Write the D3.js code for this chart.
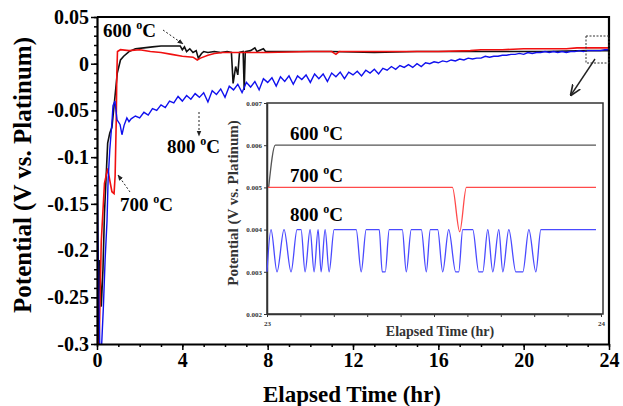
<!DOCTYPE html>
<html>
<head>
<meta charset="utf-8">
<script src="https://cdn.jsdelivr.net/npm/d3@7"></script>
<style>
body { margin: 0; background: #fff; }
svg text { font-family: "Liberation Serif", "Times New Roman", serif; font-weight: bold; }
</style>
</head>
<body>
<svg id="chart" width="623" height="406"></svg>
<script>
const width = 623;
const height = 406;

// main chart data, [hour, volts]
const xTicks = [0, 4, 8, 12, 16, 20, 24];
const yTicks = [0.05, 0, -0.05, -0.1, -0.15, -0.2, -0.25, -0.3];

const series600 = [
  [0.05, -0.30], [0.12, -0.21], [0.2, -0.26], [0.28, -0.22], [0.35, -0.16], [0.45, -0.11],
  [0.5, -0.085], [0.6, -0.074], [0.7, -0.068], [0.8, -0.045], [0.95, -0.01], [1.1, 0.004],
  [1.25, 0.008], [1.5, 0.013], [1.8, 0.016], [2.2, 0.017], [2.6, 0.018], [3.0, 0.019],
  [3.5, 0.019], [3.9, 0.019], [4.0, 0.015], [4.1, 0.018], [4.2, 0.013], [4.35, 0.016],
  [4.5, 0.012], [4.65, 0.014], [4.75, 0.006], [4.9, 0.011], [5.0, 0.013], [5.2, 0.012],
  [5.5, 0.013], [5.8, 0.012], [6.1, 0.013], [6.3, 0.012], [6.38, -0.021], [6.5, -0.003],
  [6.6, -0.012], [6.68, 0.012], [6.85, 0.013], [6.9, -0.028], [6.95, 0.013], [7.2, 0.014],
  [7.4, 0.017], [7.5, 0.013], [7.8, 0.016], [7.9, 0.013], [9, 0.013], [11, 0.013],
  [13, 0.012], [15, 0.013], [17, 0.013], [19, 0.013], [21, 0.013], [23, 0.014], [24, 0.014]
];

const series700 = [
  [0.02, -0.30], [0.1, -0.30], [0.2, -0.19], [0.35, -0.128], [0.5, -0.112], [0.6, -0.125],
  [0.7, -0.137], [0.8, -0.139], [0.85, -0.12], [0.9, -0.063], [0.93, -0.01], [0.96, 0.013],
  [1.1, 0.015], [1.5, 0.014], [2.0, 0.015], [2.5, 0.013], [3.0, 0.012], [3.5, 0.010],
  [4.0, 0.008], [4.5, 0.007], [4.7, 0.004], [4.85, 0.006], [5.2, 0.009], [5.5, 0.011],
  [5.9, 0.012], [7, 0.012], [8, 0.012], [10, 0.013], [11.0, 0.013], [11.2, 0.010],
  [11.35, 0.013], [14, 0.013], [16, 0.013], [17.5, 0.014], [18.0, 0.015], [19, 0.015],
  [20, 0.016], [21, 0.016], [22, 0.016], [22.5, 0.017], [24, 0.017]
];

const series800Start = [
  [0.0, -0.105], [0.05, -0.19], [0.1, -0.27], [0.15, -0.32], [0.22, -0.30], [0.3, -0.26],
  [0.38, -0.21], [0.47, -0.168], [0.52, -0.125], [0.6, -0.092], [0.7, -0.063], [0.75, -0.045],
  [0.84, -0.04], [0.94, -0.06], [1.08, -0.065], [1.17, -0.076], [1.27, -0.066], [1.4, -0.058],
  [1.5, -0.062]
];
// 800 C readings every 0.2 hr from 1.6 hr to 24 hr
const series800Values = [
  -0.059, -0.056, -0.058, -0.052, -0.055, -0.048, -0.050, -0.044, -0.047, -0.040,
  -0.042, -0.035, -0.040, -0.034, -0.038, -0.032, -0.036, -0.031, -0.041, -0.029,
  -0.033, -0.027, -0.036, -0.024, -0.028, -0.022, -0.031, -0.020, -0.025, -0.019,
  -0.028, -0.016, -0.020, -0.015, -0.024, -0.014, -0.019, -0.013, -0.022, -0.013,
  -0.017, -0.012, -0.020, -0.011, -0.016, -0.011, -0.019, -0.010, -0.014, -0.009,
  -0.016, -0.009, -0.012, -0.008, -0.013, -0.007, -0.010, -0.006, -0.011, -0.005,
  -0.007, -0.003, -0.006, -0.002, -0.004, -0.001, -0.004, 0.000, -0.003, 0.001,
  0.000, 0.002, 0.001, 0.003, 0.002, 0.004, 0.003, 0.005, 0.004, 0.006,
  0.005, 0.006, 0.006, 0.008, 0.007, 0.008, 0.008, 0.009, 0.009, 0.010,
  0.010, 0.011, 0.010, 0.012, 0.011, 0.012, 0.012, 0.013, 0.012, 0.013,
  0.012, 0.013, 0.012, 0.013, 0.013, 0.014, 0.013, 0.014, 0.014, 0.014,
  0.014, 0.015, 0.015
];

// inset data (zoom on 23-24 hr)
const insetYTicks = [0.002, 0.003, 0.004, 0.005, 0.006, 0.007];
const inset600 = [[23.005, 0.005], [23.025, 0.006], [23.035, 0.006], [23.985, 0.006]];
const inset700 = [[23.003, 0.005], [23.555, 0.005], [23.577, 0.00395], [23.597, 0.005], [23.985, 0.005]];
const inset800 = [
  [23.000, 0.003], [23.012, 0.004], [23.030, 0.003], [23.051, 0.004], [23.072, 0.003],
  [23.090, 0.004], [23.102, 0.004], [23.114, 0.003], [23.129, 0.004], [23.141, 0.003],
  [23.153, 0.004], [23.162, 0.003], [23.174, 0.004], [23.186, 0.003], [23.201, 0.004],
  [23.267, 0.004], [23.282, 0.003], [23.297, 0.004], [23.336, 0.004], [23.345, 0.003],
  [23.354, 0.003], [23.366, 0.004], [23.405, 0.004], [23.417, 0.003], [23.432, 0.004],
  [23.462, 0.004], [23.477, 0.003], [23.489, 0.004], [23.511, 0.004], [23.526, 0.003],
  [23.544, 0.004], [23.565, 0.003], [23.574, 0.003], [23.586, 0.004], [23.616, 0.004],
  [23.634, 0.003], [23.646, 0.003], [23.661, 0.004], [23.676, 0.003], [23.694, 0.004],
  [23.706, 0.003], [23.724, 0.004], [23.745, 0.003], [23.766, 0.003], [23.784, 0.004],
  [23.805, 0.003], [23.820, 0.004], [23.985, 0.004]
];

const plot = {left: 97, right: 609, top: 17, bottom: 344};
const box = {left: 267, right: 603, top: 103, bottom: 314};

const svg = d3.select('#chart');

const x = d3.scaleLinear().domain([0, 24]).range([plot.left, plot.right]);
const y = d3.scaleLinear().domain([-0.3, 0.05]).range([plot.bottom, plot.top]);

const defs = svg.append('defs');
defs.append('clipPath').attr('id', 'clip')
  .append('rect')
  .attr('x', plot.left).attr('y', plot.top)
  .attr('width', plot.right - plot.left).attr('height', plot.bottom - plot.top);

defs.append('marker').attr('id', 'tri')
  .attr('viewBox', '0 0 10 10').attr('refX', 9).attr('refY', 5)
  .attr('markerWidth', 6).attr('markerHeight', 6).attr('orient', 'auto')
  .append('path').attr('d', 'M0,1 L10,5 L0,9 z').attr('fill', '#222');

defs.append('marker').attr('id', 'vee')
  .attr('viewBox', '0 0 10 10').attr('refX', 9).attr('refY', 5)
  .attr('markerWidth', 8).attr('markerHeight', 8).attr('orient', 'auto')
  .append('path').attr('d', 'M0,1 L10,5 L0,9').attr('fill', 'none')
  .attr('stroke', '#222').attr('stroke-width', 1.5);

// main lines
const line = d3.line().x(d => x(d[0])).y(d => y(d[1]));
const hours800 = d3.range(1.6, 24.001, 0.2);
const series800 = series800Start.concat(series800Values.map((v, i) => [hours800[i], v]));

const lines = svg.append('g').attr('clip-path', 'url(#clip)');
lines.append('path').datum(series600)
  .attr('d', line).attr('fill', 'none').attr('stroke', '#111').attr('stroke-width', 1.6);
lines.append('path').datum(series700)
  .attr('d', line).attr('fill', 'none').attr('stroke', '#f01010').attr('stroke-width', 1.6);
lines.append('path').datum(series800)
  .attr('d', line).attr('fill', 'none').attr('stroke', '#1010ee').attr('stroke-width', 1.4);

// axes
const xAxis = svg.append('g').attr('transform', `translate(0,${plot.bottom})`)
  .call(d3.axisBottom(x).tickValues(xTicks).tickSize(6).tickSizeOuter(0).tickPadding(3).tickFormat(d3.format('d')));
svg.append('g').attr('transform', `translate(0,${plot.bottom})`)
  .call(d3.axisBottom(x).tickValues(d3.range(0, 25, 1)).tickSize(3).tickSizeOuter(0).tickFormat(''))
  .select('.domain').remove();

const yAxis = svg.append('g').attr('transform', `translate(${plot.left},0)`)
  .call(d3.axisLeft(y).tickValues(yTicks).tickSize(6).tickSizeOuter(0).tickPadding(2)
    .tickFormat(d => d === 0 ? '0' : String(+d.toFixed(2))));
svg.append('g').attr('transform', `translate(${plot.left},0)`)
  .call(d3.axisLeft(y).tickValues(d3.range(-30, 6, 1).map(d => d / 100)).tickSize(3).tickSizeOuter(0).tickFormat(''))
  .select('.domain').remove();

svg.selectAll('.tick line').attr('stroke', '#000').attr('stroke-width', 1.5);
xAxis.select('.domain').attr('stroke-width', 2.2);
yAxis.select('.domain').attr('stroke-width', 2.2);
xAxis.selectAll('text').style('font-size', '20px').attr('fill', '#000');
yAxis.selectAll('text').style('font-size', '20px').attr('fill', '#000');

svg.append('path')
  .attr('d', `M${plot.left},${plot.top}H${plot.right}V${plot.bottom}`)
  .attr('fill', 'none').attr('stroke', '#000').attr('stroke-width', 2.2);

svg.append('text')
  .attr('x', (plot.left + plot.right) / 2 - 1).attr('y', 402)
  .attr('text-anchor', 'middle').style('font-size', '23px')
  .text('Elapsed Time (hr)');

svg.append('text')
  .attr('transform', 'translate(31,175) rotate(-90)')
  .attr('text-anchor', 'middle').style('font-size', '25px')
  .text('Potential (V vs. Platinum)');

function tempLabel(px, py, t) {
  const txt = svg.append('text').attr('x', px).attr('y', py).style('font-size', '19px');
  txt.append('tspan').text(t + ' ');
  txt.append('tspan').attr('dy', -8).style('font-size', '12px').text('o');
  txt.append('tspan').attr('dy', 8).text('C');
}

// main annotations
tempLabel(103, 37, '600');
tempLabel(120, 211, '700');
tempLabel(167, 153, '800');

svg.append('line').attr('x1', 163).attr('y1', 30).attr('x2', 183).attr('y2', 44)
  .attr('stroke', '#222').attr('stroke-width', 1).attr('stroke-dasharray', '2,2')
  .attr('marker-end', 'url(#tri)');
svg.append('line').attr('x1', 199).attr('y1', 112).attr('x2', 199).attr('y2', 136)
  .attr('stroke', '#222').attr('stroke-width', 1).attr('stroke-dasharray', '2,2')
  .attr('marker-end', 'url(#tri)');
svg.append('line').attr('x1', 130).attr('y1', 192).attr('x2', 118).attr('y2', 175)
  .attr('stroke', '#222').attr('stroke-width', 1).attr('stroke-dasharray', '2,2')
  .attr('marker-end', 'url(#tri)');

svg.append('rect').attr('x', 586).attr('y', 36).attr('width', 23).attr('height', 27)
  .attr('fill', 'none').attr('stroke', '#333').attr('stroke-width', 1)
  .attr('stroke-dasharray', '2,1.5');
svg.append('line').attr('x1', 595).attr('y1', 59).attr('x2', 571).attr('y2', 95)
  .attr('stroke', '#222').attr('stroke-width', 1.4).attr('marker-end', 'url(#vee)');

// inset
const ix = d3.scaleLinear().domain([23, 24]).range([box.left, 601]);
const iy = d3.scaleLinear().domain([0.002, 0.007]).range([box.bottom, box.top]);

svg.append('rect')
  .attr('x', box.left).attr('y', box.top)
  .attr('width', box.right - box.left).attr('height', box.bottom - box.top)
  .attr('fill', '#fff').attr('stroke', '#333').attr('stroke-width', 1.5);

const iyAxis = svg.append('g').attr('transform', `translate(${box.left},0)`)
  .call(d3.axisLeft(iy).tickValues(insetYTicks).tickSize(3).tickSizeOuter(0).tickPadding(2).tickFormat(d3.format('.3f')));
const ixAxis = svg.append('g').attr('transform', `translate(0,${box.bottom})`)
  .call(d3.axisBottom(ix).tickValues(d3.range(0, 11, 1).map(d => 23 + d / 10)).tickSize(3).tickSizeOuter(0).tickPadding(4)
    .tickFormat(d => (Math.abs(d - 23) < 1e-6 || Math.abs(d - 24) < 1e-6) ? d3.format('d')(d) : ''));
[iyAxis, ixAxis].forEach(g => {
  g.select('.domain').attr('stroke', '#333').attr('stroke-width', 1.5);
  g.selectAll('.tick line').attr('stroke', '#333').attr('stroke-width', 1);
  g.selectAll('text').style('font-size', '7px').attr('fill', '#333');
});

const iline = d3.line().x(d => ix(d[0])).y(d => iy(d[1])).curve(d3.curveMonotoneX);
svg.append('path').datum(inset600).attr('d', iline)
  .attr('fill', 'none').attr('stroke', '#555').attr('stroke-width', 1.3);
svg.append('path').datum(inset700).attr('d', iline)
  .attr('fill', 'none').attr('stroke', '#ff4a4a').attr('stroke-width', 1.3);
svg.append('path').datum(inset800).attr('d', iline)
  .attr('fill', 'none').attr('stroke', '#4a4aff').attr('stroke-width', 1.3);

tempLabel(290, 140, '600');
tempLabel(290, 182, '700');
tempLabel(290, 221, '800');

svg.append('text')
  .attr('x', 440).attr('y', 336)
  .attr('text-anchor', 'middle').style('font-size', '14px').attr('fill', '#333')
  .text('Elapsed Time (hr)');
svg.append('text')
  .attr('transform', 'translate(238,203) rotate(-90)')
  .attr('text-anchor', 'middle').style('font-size', '15px').attr('fill', '#333')
  .text('Potential (V vs. Platinum)');
</script>
</body>
</html>
